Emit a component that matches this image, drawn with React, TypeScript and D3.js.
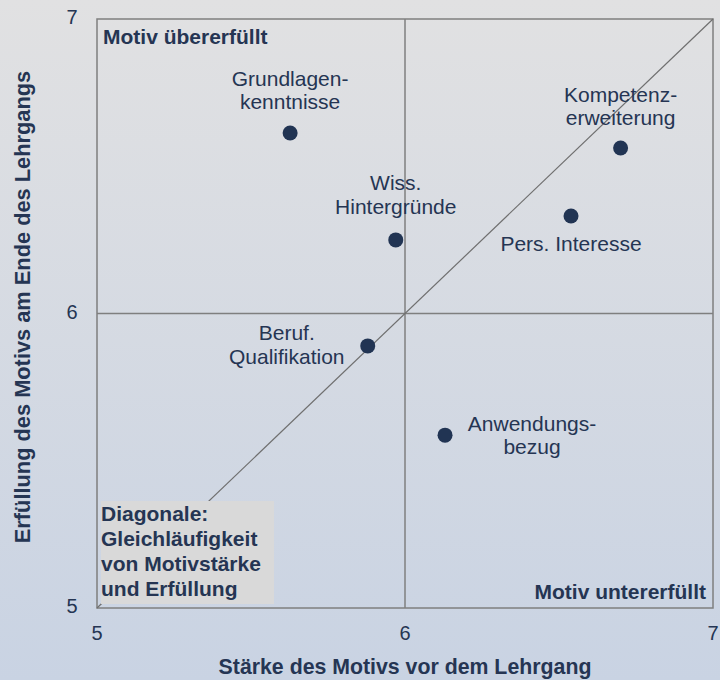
import React from "react";
import * as d3 from "d3";

const motive = [
  "Grundlagen-\nkenntnisse",
  "Kompetenz-\nerweiterung",
  "Wiss.\nHintergründe",
  "Pers. Interesse",
  "Beruf.\nQualifikation",
  "Anwendungs-\nbezug",
];
const staerke = [5.627, 6.7, 5.97, 6.539, 5.879, 6.13];
const erfuellung = [6.613, 6.562, 6.25, 6.331, 5.89, 5.587];
const xTicks = [5, 6, 7];
const yTicks = [5, 6, 7];
// label offsets (dx, dy of first line relative to point), in px
const labelDx = [0, 0, 0, 0, -81, 87];
const labelDy = [-53, -52, -55, 29, -11, -10];

const W = 720;
const H = 680;
const M = { left: 97, right: 713, top: 19, bottom: 608 };
const ink = "#253553";
const font = "'Liberation Sans', Arial, sans-serif";

export default function App() {
  const x = d3.scaleLinear().domain([5, 7]).range([M.left, M.right]);
  const y = d3.scaleLinear().domain([5, 7]).range([M.bottom, M.top]);
  const diag = d3.line<number>().x((d) => x(d)).y((d) => y(d));

  return (
    <svg
      width={W}
      height={H}
      style={{ position: "absolute", left: 0, top: 0 }}
      fontFamily={font}
    >
      <defs>
        <linearGradient id="bg" x1="0" y1="0" x2="0" y2="1">
          <stop offset="0" stopColor="#e1e1e2" />
          <stop offset="1" stopColor="#c9d3e3" />
        </linearGradient>
      </defs>
      <rect x={0} y={0} width={W} height={H} fill="url(#bg)" />

      {/* frame and quadrant lines */}
      <rect
        x={x(5)}
        y={y(7)}
        width={x(7) - x(5)}
        height={y(5) - y(7)}
        fill="none"
        stroke="#7f7f7f"
        strokeWidth={1.5}
      />
      <line x1={x(6)} x2={x(6)} y1={y(5)} y2={y(7)} stroke="#7f7f7f" strokeWidth={1.5} />
      <line x1={x(5)} x2={x(7)} y1={y(6)} y2={y(6)} stroke="#7f7f7f" strokeWidth={1.5} />
      <path d={diag([5, 7]) || ""} stroke="#6f6f6f" strokeWidth={1.2} fill="none" />

      {/* diagonal note box */}
      <rect x={101} y={501} width={173} height={103} fill="#d9d9d9" />
      {["Diagonale:", "Gleichläufigkeit", "von Motivstärke", "und Erfüllung"].map((t, i) => (
        <text key={t} x={101} y={515 + i * 25} fontSize={21} fontWeight="bold" fill={ink} dominantBaseline="middle">
          {t}
        </text>
      ))}

      <text x={103} y={38} fontSize={21} fontWeight="bold" fill={ink} dominantBaseline="middle">
        Motiv übererfüllt
      </text>
      <text x={706} y={593} fontSize={21} fontWeight="bold" fill={ink} textAnchor="end" dominantBaseline="middle">
        Motiv untererfüllt
      </text>

      {/* points */}
      {motive.map((m, i) => (
        <g key={m}>
          <circle cx={x(staerke[i])} cy={y(erfuellung[i])} r={7.5} fill="#213453" />
          {m.split("\n").map((line, j) => (
            <text
              key={j}
              x={x(staerke[i]) + labelDx[i]}
              y={y(erfuellung[i]) + labelDy[i] + j * 23.5}
              fontSize={21}
              fill={ink}
              textAnchor="middle"
              dominantBaseline="middle"
            >
              {line}
            </text>
          ))}
        </g>
      ))}

      {/* tick labels */}
      {xTicks.map((t) => (
        <text key={"x" + t} x={x(t)} y={635} fontSize={20} fill={ink} textAnchor="middle" dominantBaseline="middle">
          {t}
        </text>
      ))}
      {yTicks.map((t) => (
        <text key={"y" + t} x={72} y={y(t)} fontSize={20} fill={ink} textAnchor="middle" dominantBaseline="middle">
          {t}
        </text>
      ))}

      <text x={405} y={668} fontSize={21.3} fontWeight="bold" fill={ink} textAnchor="middle" dominantBaseline="middle">
        Stärke des Motivs vor dem Lehrgang
      </text>
      <text
        transform="translate(24,307) rotate(-90)"
        fontSize={21.8}
        fontWeight="bold"
        fill={ink}
        textAnchor="middle"
        dominantBaseline="middle"
      >
        Erfüllung des Motivs am Ende des Lehrgangs
      </text>
    </svg>
  );
}
